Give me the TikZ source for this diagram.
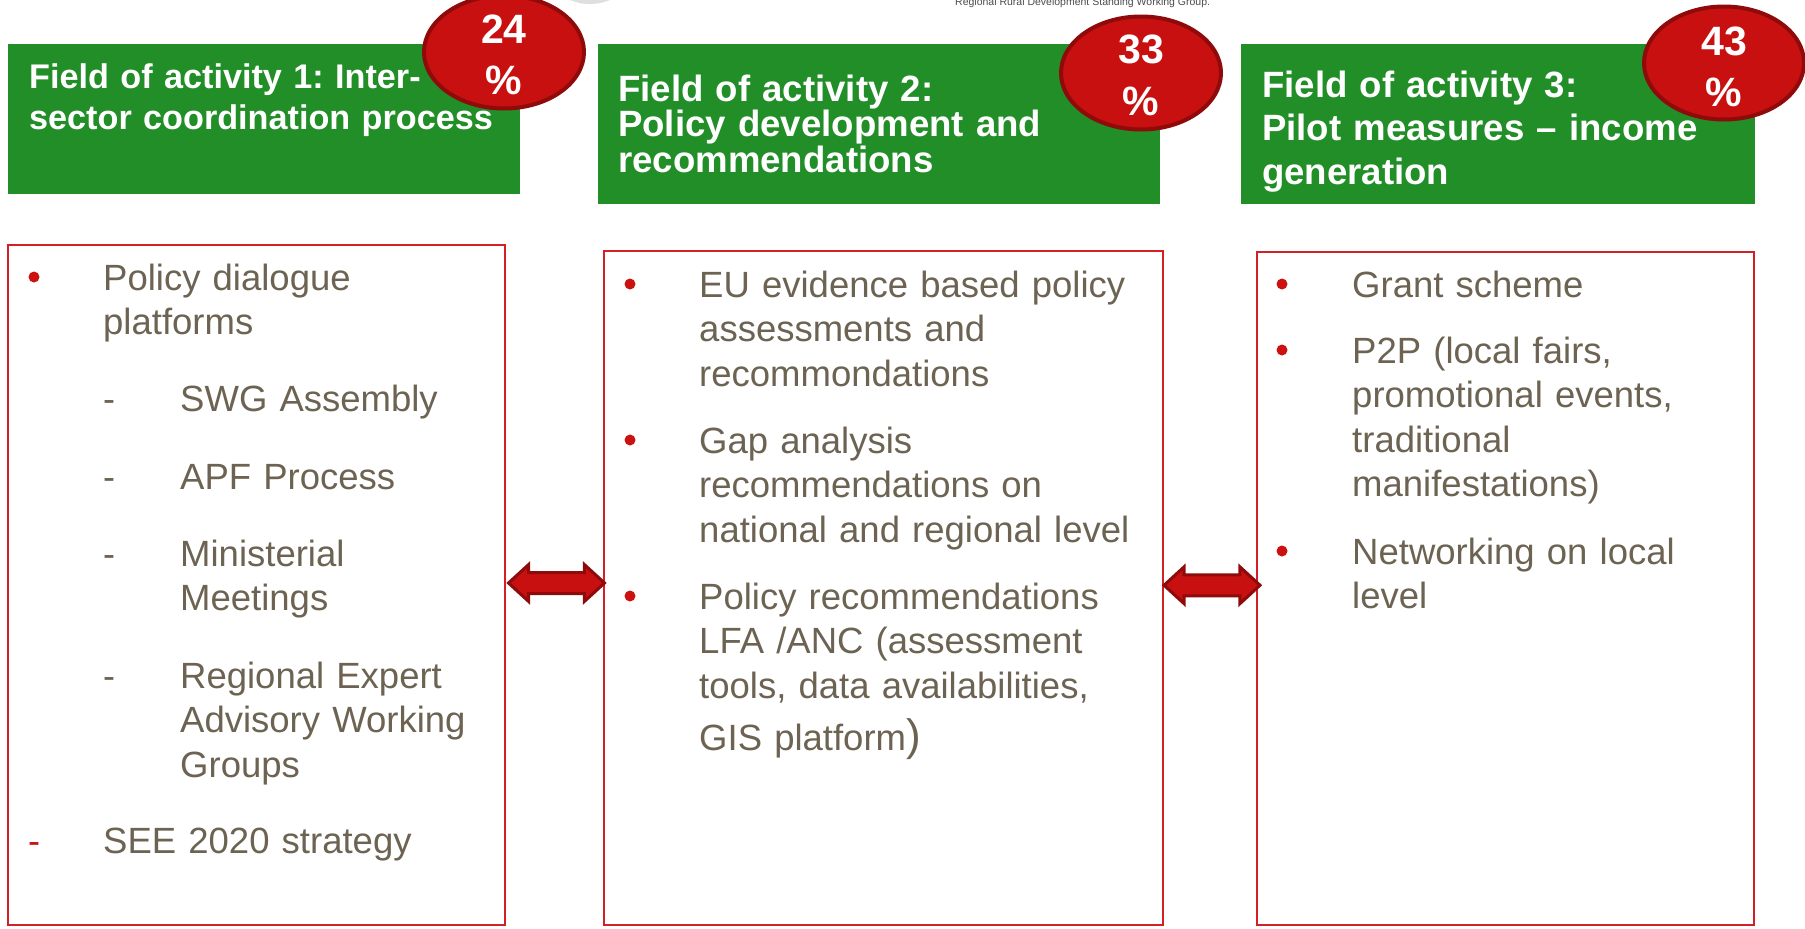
\documentclass[tikz,border=0pt]{standalone}
\usepackage{fontspec}
\setmainfont{Liberation Sans}
\usetikzlibrary{shapes.arrows,shapes.geometric,calc}
\definecolor{hgreen}{RGB}{33,142,39}
\definecolor{bred}{RGB}{211,32,39}
\definecolor{cred}{RGB}{200,16,16}
\definecolor{cdark}{RGB}{143,10,10}
\definecolor{btext}{RGB}{108,99,82}
\definecolor{dotred}{RGB}{204,17,17}
\frenchspacing
\begin{document}
\begin{tikzpicture}[x=1pt,y=-1pt,
  hbox/.style={fill=hgreen,draw=none,inner sep=0,outer sep=0,anchor=north west},
  rbox/.style={draw=bred,line width=2pt,fill=white,inner sep=0,outer sep=0,anchor=north west},
  pct/.style={ellipse,fill=cred,draw=cdark,line width=4pt,inner sep=0,minimum width=160pt,minimum height=113pt},
  pcttext/.style={font=\fontsize{41}{41}\selectfont\bfseries,text=white,inner sep=0,anchor=base},
  htext/.style={text=white,inner sep=0,anchor=base west,text width=700pt,align=left},
  body/.style={font=\fontsize{36.5}{44.6}\selectfont,text=btext,inner sep=0,anchor=base west,text width=700pt,align=left},
  dashmark/.style={font=\fontsize{36}{44.6}\selectfont,text=btext,inner sep=0,anchor=base west},
  bul/.style={circle,fill=dotred,minimum size=11pt,inner sep=0},
  dblarrow/.style={double arrow,fill=cred,draw=cdark,line width=3pt,minimum height=96pt,inner xsep=0pt,inner ysep=9pt,text height=0pt,text depth=0pt,double arrow head extend=8pt,double arrow tip angle=85}]
\useasboundingbox (0,0) rectangle (1805,929);
\fill[white] (0,0) rectangle (1805,929);
% faint remnants at the top edge
\fill[gray!25] (590,-20) ellipse (36pt and 24pt);
\node[font=\fontsize{10.5}{10.5}\selectfont,text=black!70,inner sep=0,anchor=base west] (src) at (955,5) {Regional Rural Development Standing Working Group.};
% header boxes
\node[hbox,minimum width=512pt,minimum height=150pt] (G1) at (8,44) {};
\node[hbox,minimum width=562pt,minimum height=160pt] (G2) at (598,44) {};
\node[hbox,minimum width=514pt,minimum height=160pt] (G3) at (1241,44) {};
\node[htext,font=\fontsize{34.2}{41}\selectfont\bfseries] (G1t) at (29,88) {Field of activity 1: Inter-\\sector coordination process};
\node[htext,font=\fontsize{36.6}{35.5}\selectfont\bfseries] (G2t) at (618,101) {Field of activity 2:\\Policy development and\\recommendations};
\node[htext,font=\fontsize{36.6}{43.5}\selectfont\bfseries] (G3t) at (1262,97) {Field of activity 3:\\Pilot measures -- income\\generation};
% percentage ellipses
\node[pct] (E1) at (504,52) {};
\node[pct] (E2) at (1141,73) {};
\node[pct] (E3) at (1724,63) {};
\node[pcttext] (E1a) at ($(E1.center)+(0,-9)$) {24};
\node[pcttext] (E1b) at ($(E1.center)+(0,42)$) {\%};
\node[pcttext] (E2a) at ($(E2.center)+(0,-10)$) {33};
\node[pcttext] (E2b) at ($(E2.center)+(0,42)$) {\%};
\node[pcttext] (E3a) at ($(E3.center)+(0,-8)$) {43};
\node[pcttext] (E3b) at ($(E3.center)+(0,43)$) {\%};
% content boxes
\node[rbox,minimum width=497pt,minimum height=680pt] (R1) at (8,245) {};
\node[rbox,minimum width=559pt,minimum height=674pt] (R2) at (604,251) {};
\node[rbox,minimum width=497pt,minimum height=673pt] (R3) at (1257,252) {};
% box 1
\node[body] (i11) at (103,290) {Policy dialogue\\platforms};
\node[bul] (b11) at ($(i11.base west)+(-69,-13)$) {};
\node[dashmark] (d12) at (103,411) {-};
\node[body] (i12) at (180,411) {SWG Assembly};
\node[dashmark] (d13) at (103,489) {-};
\node[body] (i13) at (180,489) {APF Process};
\node[dashmark] (d14) at (103,566) {-};
\node[body] (i14) at (180,566) {Ministerial\\Meetings};
\node[dashmark] (d15) at (103,688) {-};
\node[body] (i15) at (180,688) {Regional Expert\\Advisory Working\\Groups};
\node[dashmark,text=dotred] (d16) at (28,853) {-};
\node[body] (i16) at (103,853) {SEE 2020 strategy};
% box 2
\node[body] (i21) at (699,297) {EU evidence based policy\\assessments and\\recommondations};
\node[bul] (b21) at ($(i21.base west)+(-69,-13)$) {};
\node[body] (i22) at (699,453) {Gap analysis\\recommendations on\\national and regional level};
\node[bul] (b22) at ($(i22.base west)+(-69,-13)$) {};
\node[body] (i23) at (699,609) {Policy recommendations\\LFA /ANC (assessment\\tools, data availabilities,\\[8pt]GIS platform{\fontsize{44}{44}\selectfont)}};
\node[bul] (b23) at ($(i23.base west)+(-69,-13)$) {};
% box 3
\node[body] (i31) at (1352,297) {Grant scheme};
\node[bul] (b31) at ($(i31.base west)+(-70,-13)$) {};
\node[body] (i32) at (1352,363) {P2P (local fairs,\\promotional events,\\traditional\\manifestations)};
\node[bul] (b32) at ($(i32.base west)+(-70,-13)$) {};
\node[body] (i33) at (1352,564) {Networking on local\\level};
\node[bul] (b33) at ($(i33.base west)+(-70,-13)$) {};
% double arrows between the boxes
\node[dblarrow] (A1) at ($(R1.east)!0.5!(R2.west)+(2,-3.5)$) {};
\node[dblarrow] (A2) at ($(R2.east)!0.5!(R3.west)+(2,-3)$) {};
\end{tikzpicture}
\end{document}
